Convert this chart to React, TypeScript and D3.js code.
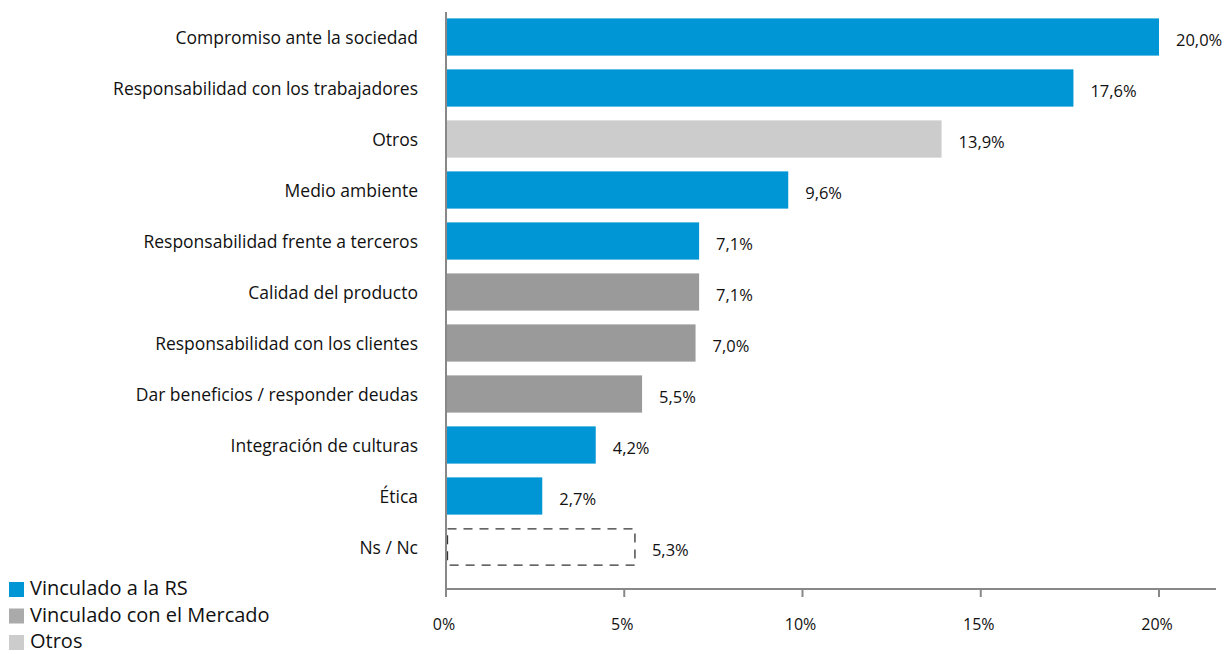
import React from "react";
import * as d3 from "d3";

const categories = [
  "Compromiso ante la sociedad",
  "Responsabilidad con los trabajadores",
  "Otros",
  "Medio ambiente",
  "Responsabilidad frente a terceros",
  "Calidad del producto",
  "Responsabilidad con los clientes",
  "Dar beneficios / responder deudas",
  "Integración de culturas",
  "Ética",
  "Ns / Nc",
];
const values = [20.0, 17.6, 13.9, 9.6, 7.1, 7.1, 7.0, 5.5, 4.2, 2.7, 5.3];
const groups = ["RS", "RS", "Otros", "RS", "RS", "Mercado", "Mercado", "Mercado", "RS", "RS", "NsNc"];
const xTicks = [0, 5, 10, 15, 20];
const legendItems = [
  { key: "RS", label: "Vinculado a la RS" },
  { key: "Mercado", label: "Vinculado con el Mercado" },
  { key: "Otros", label: "Otros" },
];

const barColor: Record<string, string> = {
  RS: "#0096D5",
  Mercado: "#9A9A9A",
  Otros: "#CCCCCC",
  NsNc: "none",
};
const legendColor: Record<string, string> = {
  RS: "#0096D5",
  Mercado: "#AAAAAA",
  Otros: "#CCCCCC",
};

const W = 1229;
const H = 654;
const FONT = "'Open Sans', Lato, sans-serif";

export default function App() {
  const x = d3.scaleLinear().domain([0, 20]).range([446, 1159]);
  const y = d3
    .scaleBand<string>()
    .domain(categories)
    .range([11.5, 572.5])
    .paddingInner(0.27)
    .paddingOuter(0.135);
  const fmt = (v: number) => v.toFixed(1).replace(".", ",") + "%";
  const axisY = 589;

  return (
    <svg
      width={W}
      height={H}
      style={{ position: "absolute", left: 0, top: 0, background: "#fff" }}
      fontFamily={FONT}
    >
      {categories.map((c, i) => {
        const by = y(c)!;
        const bh = y.bandwidth();
        const g = groups[i];
        const x0 = x(0);
        const x1 = x(values[i]);
        return (
          <g key={c}>
            {g === "NsNc" ? (
              <rect
                x={x0 + 1.5}
                y={by + 0.5}
                width={x1 - x0 - 1.5}
                height={bh - 1}
                fill="none"
                stroke="#333"
                strokeWidth={1.3}
                strokeDasharray="9,7"
              />
            ) : (
              <rect x={x0} y={by} width={x1 - x0} height={bh} fill={barColor[g]} />
            )}
            <text
              x={418}
              y={by + bh / 2}
              textAnchor="end"
              dominantBaseline="central"
              fontSize={17.5}
              fill="#111"
            >
              {c}
            </text>
            <text
              x={x1 + 17}
              y={by + bh / 2 + 2}
              textAnchor="start"
              dominantBaseline="central"
              fontSize={16.5}
              fill="#111"
            >
              {fmt(values[i])}
            </text>
          </g>
        );
      })}
      {/* axes */}
      <line x1={446} x2={446} y1={12} y2={axisY} stroke="#888" strokeWidth={2} />
      <line x1={445} x2={1216} y1={axisY} y2={axisY} stroke="#888" strokeWidth={2} />
      {xTicks.map((t) => (
        <g key={t}>
          <line x1={x(t)} x2={x(t)} y1={axisY} y2={axisY + 8} stroke="#888" strokeWidth={2} />
          <text
            x={x(t) - 2}
            y={624}
            textAnchor="middle"
            dominantBaseline="central"
            fontSize={16}
            fill="#111"
          >
            {t + "%"}
          </text>
        </g>
      ))}
      {/* legend */}
      {legendItems.map((l, i) => (
        <g key={l.key}>
          <rect x={9} y={582 + i * 26.5} width={15} height={15} fill={legendColor[l.key]} />
          <text x={30} y={595 + i * 26.5} fontSize={20} fill="#111">
            {l.label}
          </text>
        </g>
      ))}
    </svg>
  );
}
